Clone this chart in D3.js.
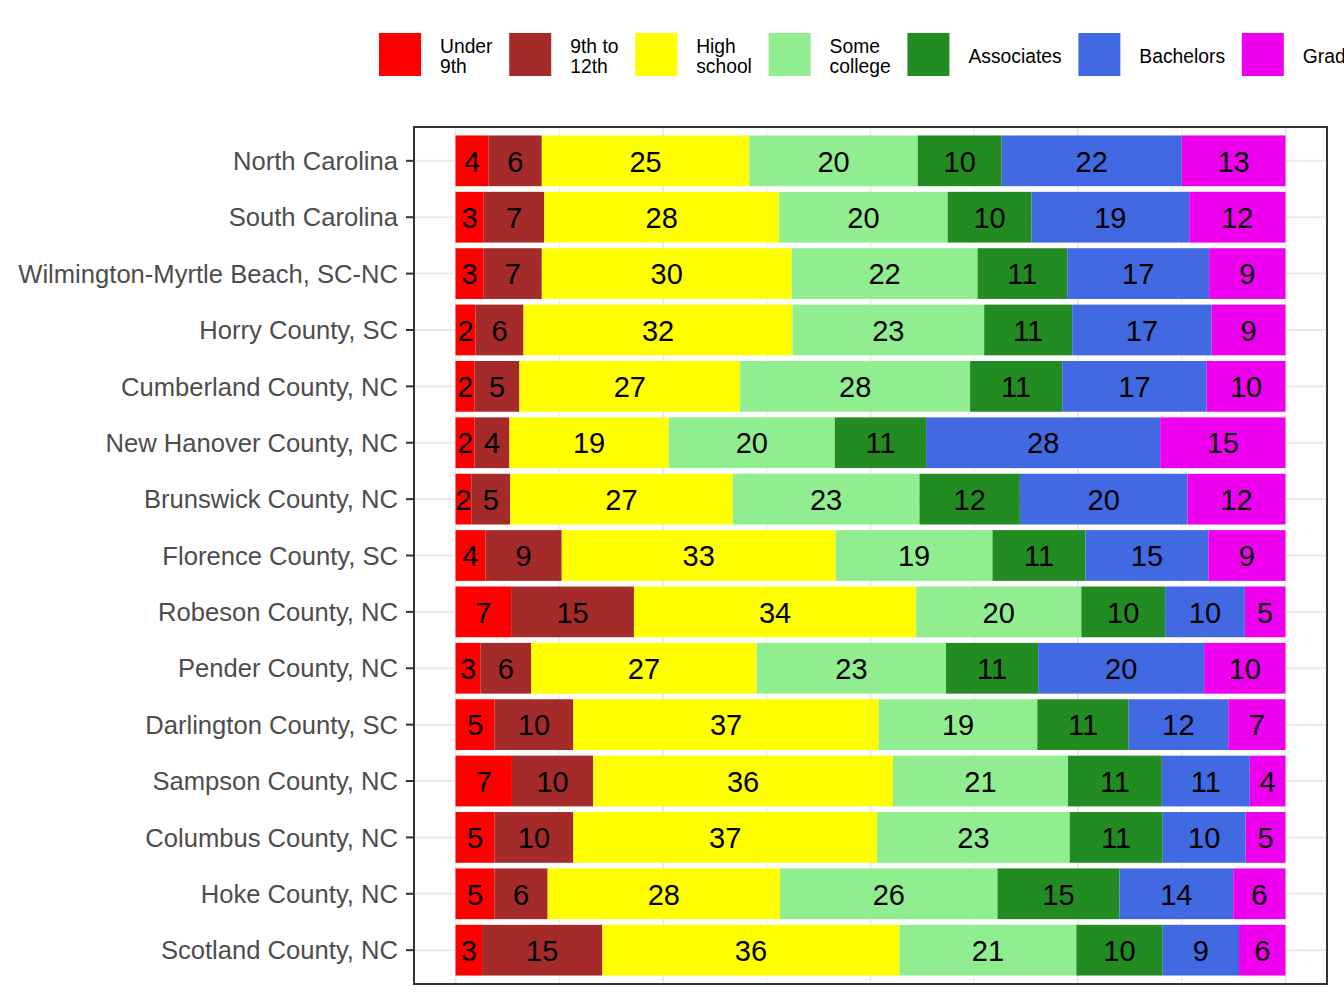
<!DOCTYPE html>
<html>
<head>
<meta charset="utf-8">
<script src="https://cdn.jsdelivr.net/npm/d3@7"></script>
<style>
  body { margin: 0; background: #fff; }
  svg { display: block; font-family: "Liberation Sans", Arial, sans-serif; }
</style>
</head>
<body>
<div class="chart"></div>
<script>
// areas, top to bottom
const areas = [
  "North Carolina", "South Carolina", "Wilmington-Myrtle Beach, SC-NC",
  "Horry County, SC", "Cumberland County, NC", "New Hanover County, NC",
  "Brunswick County, NC", "Florence County, SC", "Robeson County, NC",
  "Pender County, NC", "Darlington County, SC", "Sampson County, NC",
  "Columbus County, NC", "Hoke County, NC", "Scotland County, NC"
];

// share of adults (%) by education level, one value per area
const under9th    = [4.0, 3.4, 3.4, 2.4, 2.3, 2.3, 1.9, 3.6, 6.7, 3.0, 4.7, 6.8, 4.7, 4.7, 3.2];
const grade9to12  = [6.4, 7.3, 7.0, 5.8, 5.4, 4.2, 4.7, 9.2, 14.8, 6.1, 9.5, 9.8, 9.5, 6.4, 14.5];
const highSchool  = [25.0, 28.3, 30.1, 32.4, 26.6, 19.2, 26.8, 33.0, 34.0, 27.2, 36.8, 36.1, 36.6, 28.0, 35.8];
const someCollege = [20.3, 20.3, 22.4, 23.1, 27.7, 20.0, 22.5, 18.9, 19.9, 22.8, 19.1, 21.1, 23.2, 26.2, 21.3];
const associates  = [10.1, 10.1, 10.8, 10.6, 11.1, 11.0, 12.1, 11.2, 10.1, 11.1, 11.0, 11.3, 11.2, 14.7, 10.4];
const bachelors   = [21.7, 19.0, 17.1, 16.8, 17.4, 28.2, 20.2, 14.8, 9.6, 20.0, 12.0, 10.6, 10.0, 13.7, 9.2];
const graduate    = [12.5, 11.6, 9.2, 8.9, 9.5, 15.1, 11.8, 9.3, 4.9, 9.8, 6.9, 4.3, 4.8, 6.3, 5.6];

const levels = ["under9th", "grade9to12", "highSchool", "someCollege", "associates", "bachelors", "graduate"];
const levelLabels = [["Under", "9th"], ["9th to", "12th"], ["High", "school"], ["Some", "college"],
  ["Associates"], ["Bachelors"], ["Graduate"]];
const colors = ["#FF0000", "#A52A2A", "#FFFF00", "#90EE90", "#228B22", "#4169E1", "#EE00EE"];

const series = [under9th, grade9to12, highSchool, someCollege, associates, bachelors, graduate];
const rows = areas.map((area, i) => {
  const r = { area };
  levels.forEach((lv, j) => { r[lv] = series[j][i]; });
  return r;
});

const width = 1344, height = 1008;
const panel = { left: 414, right: 1327, top: 127, bottom: 984 };

const svg = d3.select(".chart")
  .append("svg")
  .attr("width", width)
  .attr("height", height)
  .style("overflow", "hidden");

// x: 0-100 with 5% expansion on each side of the panel
const x = d3.scaleLinear()
  .domain([-5, 105])
  .range([panel.left, panel.right]);

const y = d3.scaleBand()
  .domain(areas)
  .range([panel.top, panel.bottom])
  .paddingInner(0.1)
  .paddingOuter(0.15);

const color = d3.scaleOrdinal().domain(levels).range(colors);

// grid
const grid = svg.append("g");
grid.selectAll(".minor")
  .data([12.5, 37.5, 62.5, 87.5])
  .join("line")
  .attr("x1", d => x(d)).attr("x2", d => x(d))
  .attr("y1", panel.top).attr("y2", panel.bottom)
  .attr("stroke", "#EBEBEB").attr("stroke-width", 1);
grid.selectAll(".major")
  .data([0, 25, 50, 75, 100])
  .join("line")
  .attr("x1", d => x(d)).attr("x2", d => x(d))
  .attr("y1", panel.top).attr("y2", panel.bottom)
  .attr("stroke", "#EBEBEB").attr("stroke-width", 2);
grid.selectAll(".hgrid")
  .data(areas)
  .join("line")
  .attr("x1", panel.left).attr("x2", panel.right)
  .attr("y1", d => y(d) + y.bandwidth() / 2).attr("y2", d => y(d) + y.bandwidth() / 2)
  .attr("stroke", "#EBEBEB").attr("stroke-width", 2);

// stacked bars
const stacked = d3.stack().keys(levels)(rows);

const layer = svg.append("g")
  .selectAll("g")
  .data(stacked)
  .join("g")
  .attr("fill", d => color(d.key));

layer.selectAll("rect")
  .data(d => d)
  .join("rect")
  .attr("x", d => x(d[0]))
  .attr("y", d => y(d.data.area))
  .attr("width", d => x(d[1]) - x(d[0]))
  .attr("height", y.bandwidth());

// value labels
svg.append("g")
  .selectAll("g")
  .data(stacked)
  .join("g")
  .selectAll("text")
  .data(d => d.map(s => ({ s, key: d.key })))
  .join("text")
  .attr("x", d => x((d.s[0] + d.s[1]) / 2))
  .attr("y", d => y(d.s.data.area) + y.bandwidth() / 2)
  .attr("dy", "0.37em")
  .attr("text-anchor", "middle")
  .attr("font-size", "29px")
  .attr("fill", "#000")
  .text(d => Math.round(d.s.data[d.key]));

// panel border
svg.append("rect")
  .attr("x", panel.left).attr("y", panel.top)
  .attr("width", panel.right - panel.left)
  .attr("height", panel.bottom - panel.top)
  .attr("fill", "none")
  .attr("stroke", "#333333")
  .attr("stroke-width", 2);

// y axis
const yAxis = svg.append("g")
  .attr("transform", `translate(${panel.left},0)`)
  .call(d3.axisLeft(y).tickSize(8).tickPadding(8));
yAxis.select(".domain").remove();
yAxis.selectAll(".tick line").attr("stroke", "#333333").attr("stroke-width", 2);
yAxis.selectAll(".tick text")
  .attr("fill", "#4D4D4D")
  .attr("dy", "0.36em")
  .attr("font-size", "25.6px")
  .style("font-family", "'Liberation Sans', Arial, sans-serif");

// legend
const legend = svg.append("g");
let lx = 379;
levels.forEach((lv, i) => {
  const item = legend.append("g").attr("transform", `translate(${lx},0)`);
  item.append("rect")
    .attr("x", 0).attr("y", 33)
    .attr("width", 42).attr("height", 43)
    .attr("fill", colors[i]);
  const lines = levelLabels[i];
  const t = item.append("text")
    .attr("font-size", "19.3px")
    .attr("fill", "#000");
  lines.forEach((ln, k) => {
    t.append("tspan")
      .attr("x", 61)
      .attr("y", lines.length === 1 ? 63 : 53 + k * 20)
      .text(ln);
  });
  const w = d3.max(t.selectAll("tspan").nodes(), n => n.getComputedTextLength());
  lx += 61 + w + 16.7;
});
</script>
</body>
</html>
